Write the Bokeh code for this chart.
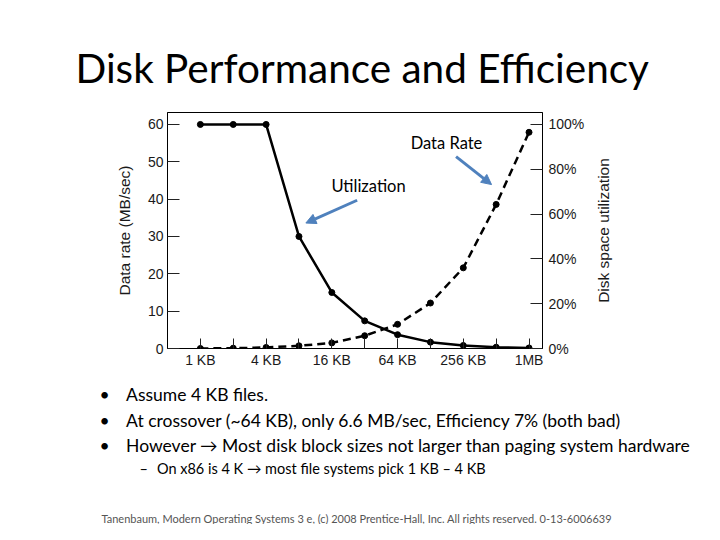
import math
import numpy as np
from bokeh.plotting import figure
from bokeh.models import (Range1d, LinearAxis, FixedTicker, Label, Arrow, NormalHead, Title)
from bokeh.embed import file_html
from bokeh.resources import INLINE

# ---- data ----
block_sizes_kb = [1, 2, 4, 8, 16, 32, 64, 128, 256, 512, 1024]
tick_labels = ["1 KB", "", "4 KB", "", "16 KB", "", "64 KB", "", "256 KB", "", "1MB"]
data_rate = [60, 60, 60, 30, 15, 7.4, 3.7, 1.7, 0.8, 0.35, 0.15]          # MB/sec (solid)
utilization_pct = [0, 0.15, 0.45, 1.2, 2.5, 5.7, 10.8, 20.3, 36.0, 64.3, 96.5]  # % (dashed)
left_ticks = [0, 10, 20, 30, 40, 50, 60]
right_ticks = [0, 20, 40, 60, 80, 100]

title_text = "Disk Performance and Efficiency"
bullets = [
    "Assume 4 KB files.",
    "At crossover (~64 KB), only 6.6 MB/sec, Efficiency 7% (both bad)",
    "However \u2192 Most disk block sizes not larger than paging system hardware",
]
sub_bullet = "On x86 is 4 K \u2192 most file systems pick 1 KB \u2013 4 KB"
footer = "Tanenbaum, Modern Operating Systems 3 e, (c) 2008 Prentice-Hall, Inc. All rights reserved. 0-13-6006639"

TXT = "Lato"
FRAME_L, FRAME_T = 167, 112

x = np.log2(block_sizes_kb)
Y_TOP = 63.2
p = figure(width=704, height=524, x_range=Range1d(-1.0, 10.41), y_range=Range1d(0, Y_TOP),
           output_backend="svg", toolbar_location=None,
           min_border_left=FRAME_L, min_border_right=162, min_border_top=FRAME_T, min_border_bottom=176)
p.extra_y_ranges = {"pct": Range1d(0, Y_TOP / 60 * 100)}
p.grid.visible = False
p.outline_line_color = "black"
p.outline_line_width = 1
p.background_fill_color = "white"
p.border_fill_color = "white"

AX_FONT = "Liberation Sans"
AX_COLOR = "#1a1a1a"

xa = p.xaxis[0]
xa.ticker = FixedTicker(ticks=list(x))
xa.major_label_overrides = {float(v): t for v, t in zip(x, tick_labels)}
xa.major_tick_in = 10
xa.major_tick_out = 0
xa.minor_tick_line_color = None
xa.major_label_standoff = 3

ya = p.yaxis[0]
ya.ticker = FixedTicker(ticks=left_ticks)
ya.major_tick_in = 12
ya.major_tick_out = 0
ya.minor_tick_line_color = None
ya.major_label_standoff = 4
ya.axis_label = "Data rate (MB/sec)"
ya.axis_label_standoff = 12

ra = LinearAxis(y_range_name="pct", ticker=FixedTicker(ticks=right_ticks))
ra.major_label_overrides = {v: f"{v}%" for v in right_ticks}
ra.major_tick_in = 12
ra.major_tick_out = 0
ra.minor_tick_line_color = None
ra.major_label_standoff = 6
p.add_layout(ra, "right")

for ax in (xa, ya, ra):
    ax.major_label_text_font = AX_FONT
    ax.major_label_text_font_size = "14px"
    ax.major_label_text_color = AX_COLOR
    ax.axis_label_text_font = AX_FONT
    ax.axis_label_text_font_size = "15.5px"
    ax.axis_label_text_font_style = "normal"
    ax.axis_label_text_color = AX_COLOR
    ax.axis_line_color = "black"
    ax.major_tick_line_color = "#222222"

# right axis label, reading bottom-to-top, in a side panel next to the right axis
p.add_layout(Label(x=16, y=118, x_units="screen", y_units="screen", text="Disk space utilization",
                   angle=math.pi / 2, text_align="center", text_baseline="middle",
                   text_font=AX_FONT, text_font_size="15.5px", text_color=AX_COLOR), "right")

p.line(x, data_rate, line_color="black", line_width=2.5)
p.scatter(x, data_rate, size=6, color="black")
p.line(x, utilization_pct, y_range_name="pct", line_color="black", line_width=2.5, line_dash="8 5")
p.scatter(x, utilization_pct, y_range_name="pct", size=6, color="black")

BLUE = "#4F81BD"
p.add_layout(Arrow(end=NormalHead(size=10, fill_color=BLUE, line_color=BLUE),
                   x_start=4.77, y_start=39.7, x_end=3.21, y_end=33.6,
                   line_color=BLUE, line_width=3))
p.add_layout(Arrow(end=NormalHead(size=10, fill_color=BLUE, line_color=BLUE),
                   x_start=7.78, y_start=51.4, x_end=8.86, y_end=43.9,
                   line_color=BLUE, line_width=3))

for X, Y, t in [(446, 142, "Data Rate"), (368, 185, "Utilization")]:
    p.add_layout(Label(x=X - FRAME_L, y=348 - Y, x_units="screen", y_units="screen", text=t,
                       text_font=TXT, text_font_size="16.5px", text_align="center",
                       text_baseline="middle", text_color="black"))


def title(text, size, offset, standoff, color="black", line_height=1.2):
    return Title(text=text, align="left", offset=offset, standoff=standoff,
                 vertical_align="bottom", text_font=TXT, text_font_size=f"{size}px",
                 text_line_height=line_height, text_font_style="normal", text_color=color)


# ---- slide texts as titles in the side panels ----
p.add_layout(title(title_text, 40.5, 75 - FRAME_L, 41), "above")

p.add_layout(title(" ", 8.6, 0, 0), "below")                      # spacing
bullet_block = "\n".join("\u2022\u2003\u2009\u200a" + b for b in bullets)
p.add_layout(title(bullet_block, 17.5, 99 - FRAME_L, 0, line_height=1.22), "below")
p.add_layout(title("\u2013\u2002\u2009" + sub_bullet, 14.5, 139 - FRAME_L, 2), "below")
p.add_layout(title(" ", 24.9, 0, 0), "below")                     # spacing
p.add_layout(title(footer, 11, 101 - FRAME_L, 0, color="#555555"), "below")

open("out.html", "w").write(file_html(p, INLINE))
